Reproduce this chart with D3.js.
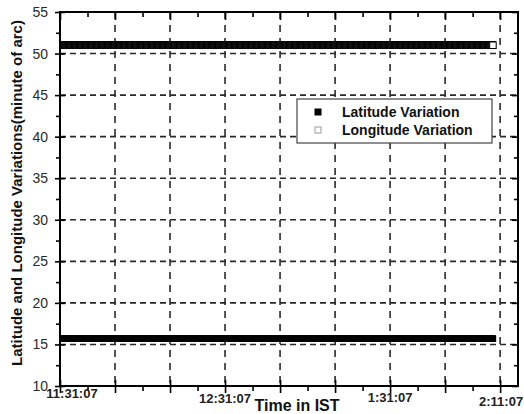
<!DOCTYPE html>
<html>
<head>
<meta charset="utf-8">
<script src="https://cdn.jsdelivr.net/npm/d3@7"></script>
<style>
  body { margin: 0; background: #fff; }
  svg { display: block; }
</style>
</head>
<body>
<div id="chart"></div>
<script>
// chart data
const yTicks = [10, 15, 20, 25, 30, 35, 40, 45, 50, 55];
const yMinorTicks = [12.5, 17.5, 22.5, 27.5, 32.5, 37.5, 42.5, 47.5, 52.5];
const xDomain = ["11:31:07", "14:17:37"];
const xMajorTimes = ["11:31:07", "11:51:07", "12:11:07", "12:31:07", "12:51:07", "13:11:07", "13:31:07", "13:51:07", "14:11:07"];
const xMinorTimes = ["11:41:07", "12:01:07", "12:21:07", "12:41:07", "13:01:07", "13:21:07", "13:41:07", "14:01:07"];
const xLabelTimes = ["11:31:07", "12:31:07", "13:31:07", "14:11:07"];
const xLabelTexts = ["11:31:07", "12:31:07", "1:31:07", "2:11:07"];
// both series are sampled every 10 s and stay flat for the whole run
const sampleFirst = "11:31:07";
const sampleLast = "14:08:37";
const latitudeLevel = 15.7;
const longitudeLevel = 51.0;
const seriesNames = ["Latitude Variation", "Longitude Variation"];

const w = 524, h = 414;
const margin = {top: 12, right: 6, bottom: 28, left: 60};
const iw = w - margin.left - margin.right;
const ih = h - margin.top - margin.bottom;

const parseT = d3.timeParse("%H:%M:%S");

const svg = d3.select("#chart")
    .append("svg")
    .attr("width", w)
    .attr("height", h)
    .style("font-family", "'Liberation Sans', Arial, sans-serif");

const x = d3.scaleTime()
    .domain(xDomain.map(parseT))
    .range([0, iw]);

const y = d3.scaleLinear()
    .domain([10, 55])
    .range([ih, 0]);

const g = svg.append("g")
    .attr("transform", `translate(${margin.left},${margin.top})`);

svg.append("defs").append("clipPath")
    .attr("id", "plotclip")
    .append("rect")
    .attr("width", iw)
    .attr("height", ih);

// grid
g.append("g")
    .selectAll("line")
    .data(yTicks.filter(d => d > 10 && d < 55))
    .enter()
    .append("line")
    .attr("x1", 0).attr("x2", iw)
    .attr("y1", d => y(d)).attr("y2", d => y(d))
    .attr("stroke", "#2a2a2a")
    .attr("stroke-width", 1.6)
    .attr("stroke-dasharray", "6,4");

g.append("g")
    .selectAll("line")
    .data(xMajorTimes.slice(1).map(parseT))
    .enter()
    .append("line")
    .attr("x1", d => x(d)).attr("x2", d => x(d))
    .attr("y1", 0).attr("y2", ih)
    .attr("stroke", "#2a2a2a")
    .attr("stroke-width", 1.6)
    .attr("stroke-dasharray", "7,6");

// series
const sampleTimes = d3.timeSecond.every(10).range(parseT(sampleFirst), d3.timeSecond.offset(parseT(sampleLast), 1));
const latitude = sampleTimes.map(t => ({t: t, v: latitudeLevel}));
const longitude = sampleTimes.map(t => ({t: t, v: longitudeLevel}));
const sq = 6.5;

const dataG = g.append("g").attr("clip-path", "url(#plotclip)");

dataG.append("g")
    .selectAll("rect")
    .data(latitude)
    .enter()
    .append("rect")
    .attr("x", d => x(d.t) - sq / 2)
    .attr("y", d => y(d.v) - sq / 2)
    .attr("width", sq)
    .attr("height", sq)
    .attr("fill", "#000");

dataG.append("g")
    .selectAll("rect")
    .data(longitude)
    .enter()
    .append("rect")
    .attr("x", d => x(d.t) - sq / 2)
    .attr("y", d => y(d.v) - sq / 2)
    .attr("width", sq)
    .attr("height", sq)
    .attr("fill", "#fff")
    .attr("stroke", "#000")
    .attr("stroke-width", 1);

// frame
g.append("rect")
    .attr("width", iw)
    .attr("height", ih)
    .attr("fill", "none")
    .attr("stroke", "#000")
    .attr("stroke-width", 2);

function tickAxis(axis, transform) {
    const a = g.append("g")
        .attr("transform", transform)
        .call(axis);
    a.select(".domain").remove();
    a.selectAll("text").remove();
    a.selectAll("line").attr("stroke", "#000").attr("stroke-width", 1.6);
    return a;
}

// left axis: major ticks cross, minor ticks out
tickAxis(d3.axisLeft(y).tickValues(yTicks).tickSize(5), "translate(0,0)");
tickAxis(d3.axisRight(y).tickValues(yTicks).tickSize(5), "translate(0,0)");
tickAxis(d3.axisLeft(y).tickValues(yMinorTicks).tickSize(4), "translate(0,0)");
// right axis: ticks in
tickAxis(d3.axisLeft(y).tickValues(yTicks).tickSize(6), `translate(${iw},0)`);
tickAxis(d3.axisLeft(y).tickValues(yMinorTicks).tickSize(4), `translate(${iw},0)`);
// bottom axis
tickAxis(d3.axisBottom(x).tickValues(xMajorTimes.map(parseT)).tickSize(7), `translate(0,${ih})`);
tickAxis(d3.axisTop(x).tickValues(xMajorTimes.map(parseT)).tickSize(6), `translate(0,${ih})`);
tickAxis(d3.axisBottom(x).tickValues(xMinorTimes.map(parseT)).tickSize(5), `translate(0,${ih})`);
// top axis: ticks in
tickAxis(d3.axisBottom(x).tickValues(xMajorTimes.map(parseT)).tickSize(8), "translate(0,0)");
tickAxis(d3.axisBottom(x).tickValues(xMinorTimes.map(parseT)).tickSize(5), "translate(0,0)");

// y tick labels
g.append("g")
    .selectAll("text")
    .data(yTicks)
    .enter()
    .append("text")
    .attr("x", -12)
    .attr("y", d => y(d))
    .attr("dy", "0.36em")
    .attr("text-anchor", "end")
    .attr("font-size", 14)
    .attr("fill", "#2a2a2a")
    .text(d => d);

// x tick labels (placed like the original, end labels nudged inward)
const xLabelShift = [12, 0, 0, 23];
const xLabelBase = [398, 403, 402, 406];
const xLabelAnchor = ["middle", "middle", "middle", "end"];
svg.append("g")
    .selectAll("text")
    .data(xLabelTimes.map((t, i) => ({t: parseT(t), s: xLabelTexts[i], i: i})))
    .enter()
    .append("text")
    .attr("x", d => margin.left + x(d.t) + xLabelShift[d.i])
    .attr("y", d => xLabelBase[d.i])
    .attr("text-anchor", d => xLabelAnchor[d.i])
    .attr("font-size", 13)
    .attr("font-weight", "bold")
    .attr("fill", "#222")
    .text(d => d.s);

// axis titles
svg.append("text")
    .attr("x", 297)
    .attr("y", 411)
    .attr("text-anchor", "middle")
    .attr("font-size", 16)
    .attr("font-weight", "bold")
    .attr("fill", "#111")
    .text("Time in IST");

svg.append("text")
    .attr("transform", "translate(22,193) rotate(-90)")
    .attr("text-anchor", "middle")
    .attr("font-size", 15)
    .attr("font-weight", "bold")
    .attr("fill", "#111")
    .text("Latitude and Longitude Variations(minute of arc)");

// legend
const legend = svg.append("g").attr("transform", "translate(297,99)");
legend.append("rect")
    .attr("width", 195)
    .attr("height", 44)
    .attr("fill", "#fff")
    .attr("stroke", "#444")
    .attr("stroke-width", 1.2);

const legendRows = legend.selectAll("g.row")
    .data(seriesNames)
    .enter()
    .append("g")
    .attr("class", "row")
    .attr("transform", (d, i) => `translate(0,${13 + i * 18})`);

legendRows.append("rect")
    .attr("x", 18)
    .attr("y", -3)
    .attr("width", 6)
    .attr("height", 6)
    .attr("fill", (d, i) => i === 0 ? "#000" : "#fff")
    .attr("stroke", (d, i) => i === 0 ? "#000" : "#999")
    .attr("stroke-width", 1);

legendRows.append("text")
    .attr("x", 45)
    .attr("y", 5)
    .attr("font-size", 14)
    .attr("font-weight", "bold")
    .attr("fill", "#111")
    .text(d => d);
</script>
</body>
</html>
